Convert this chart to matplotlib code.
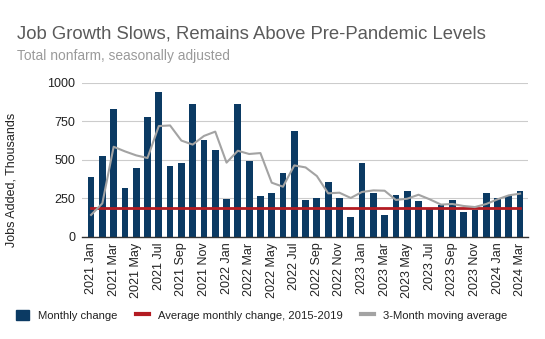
import numpy as np
import matplotlib
matplotlib.use("Agg")
import matplotlib.pyplot as plt
from matplotlib.patches import Patch
from matplotlib.lines import Line2D

plt.rcParams['font.family'] = ['Liberation Sans', 'DejaVu Sans']

years = [2021] * 12 + [2022] * 12 + [2023] * 12 + [2024] * 3
month_names = ["Jan", "Feb", "Mar", "Apr", "May", "Jun",
               "Jul", "Aug", "Sep", "Oct", "Nov", "Dec"]
months = (month_names * 4)[:39]
labels = [f"{y} {m}" for y, m in zip(years, months)]

# monthly change in total nonfarm payrolls, thousands
monthly_change = [391, 523, 827, 315, 445, 775, 937, 458, 479, 860, 626, 562,
                  246, 860, 492, 263, 283, 413, 685, 240, 253, 354, 253, 130,
                  477, 283, 140, 272, 298, 235, 184, 210, 240, 162, 175, 285,
                  251, 263, 298]

# 3-month moving average, thousands
moving_avg = [143, 218, 585, 555, 529, 512, 719, 723, 625, 599, 655, 683,
              482, 559, 538, 544, 352, 326, 464, 451, 395, 283, 287, 253,
              292, 302, 300, 240, 248, 274, 244, 210, 214, 201, 194, 214,
              244, 270, 281]

avg_2015_2019 = 188

navy = "#0b3a63"
red = "#b31b22"
grey = "#a3a3a3"

fig = plt.figure(figsize=(5.45, 3.39), dpi=100)
ax = fig.add_axes([0.1505, 0.3009, 0.8183, 0.4551])

x = np.arange(len(labels))
ax.bar(x, monthly_change, width=0.6, color=navy, zorder=2)
ax.plot([x[0], x[-1]], [avg_2015_2019] * 2, color=red, lw=2, zorder=3)
ax.plot(x, moving_avg, color=grey, lw=1.5, zorder=4)

ax.set_xlim(-0.8, len(labels) - 0.3)
ax.set_ylim(0, 1000)
ax.set_yticks([0, 250, 500, 750, 1000])
ax.yaxis.grid(True, color="#cccccc", lw=0.8, zorder=0)
ax.tick_params(axis="y", length=0, pad=5, labelsize=9, labelcolor="#222222")
ax.set_xticks(x[::2])
ax.set_xticklabels(labels[::2], rotation=90, fontsize=9, color="#222222")
ax.tick_params(axis="x", length=0, pad=4)
for s in ["top", "right", "left"]:
    ax.spines[s].set_visible(False)
ax.spines["bottom"].set_color("#333333")
ax.spines["bottom"].set_linewidth(1)

ax.set_ylabel("Jobs Added, Thousands", fontsize=9, color="#222222")
ax.yaxis.set_label_coords(-0.145, 0.37)

fig.text(0.031, 0.900, "Job Growth Slows, Remains Above Pre-Pandemic Levels",
         fontsize=13.3, color="#5a5a5a", va="center")
fig.text(0.031, 0.834, "Total nonfarm, seasonally adjusted",
         fontsize=9.9, color="#9a9a9a", va="center")

handles = [Patch(color=navy),
           Line2D([], [], color=red, lw=3),
           Line2D([], [], color=grey, lw=3)]
names = ["Monthly change", "Average monthly change, 2015-2019",
         "3-Month moving average"]
fig.legend(handles, names, loc="center left", bbox_to_anchor=(0.03, 0.07),
           ncol=3, frameon=False, fontsize=8.1, handlelength=1.1,
           handleheight=1.1, handletextpad=0.8, columnspacing=1.7,
           labelcolor="#222222", borderpad=0, borderaxespad=0)

fig.savefig("out.png", dpi=100)
